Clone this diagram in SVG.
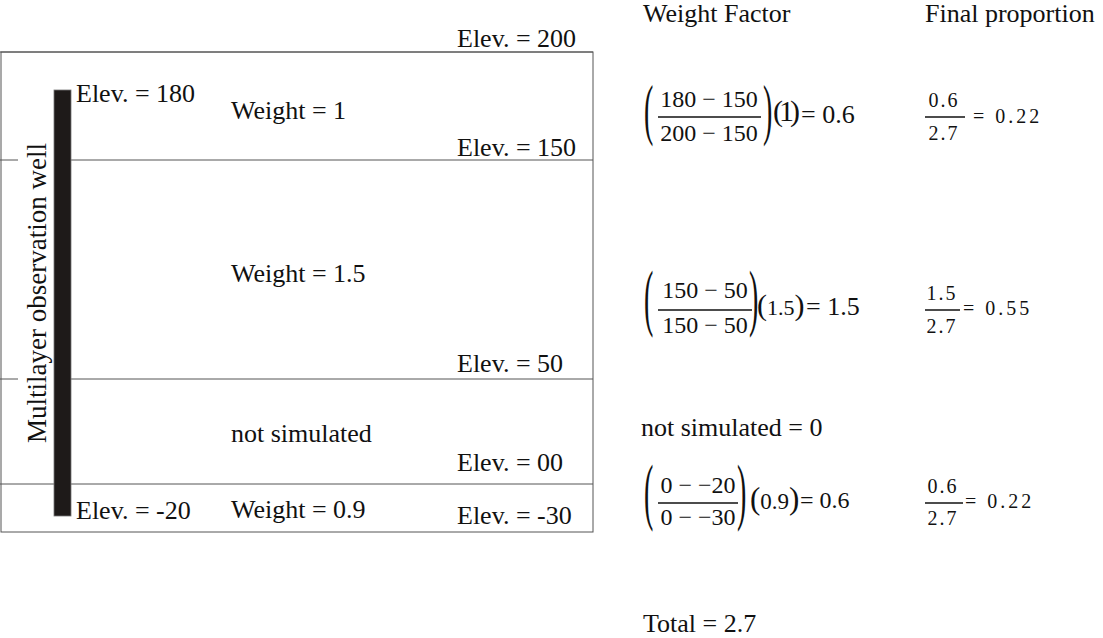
<svg xmlns="http://www.w3.org/2000/svg" width="1103" height="638" viewBox="0 0 1103 638">
<style>
text{font-family:"Liberation Serif","Times New Roman",serif;fill:#111;}
.lbl{font-size:26px;}
.num{font-size:24px;}
.res{font-size:26px;}
.sm{font-size:20px;letter-spacing:2px;}
.smr{font-size:20px;letter-spacing:3px;}
.bp{font-size:28px;}
.ln{stroke:#555;stroke-width:1;fill:none;}
.fr{stroke:#111;stroke-width:1.4;}
</style>
<rect width="1103" height="638" fill="#fff"/>
<g id="layers">
<rect class="ln" x="1" y="52" width="592" height="480"/>
<line class="ln" x1="0" y1="52" x2="593" y2="52"/>
<line class="ln" x1="0" y1="160" x2="593" y2="160"/>
<line class="ln" x1="0" y1="379" x2="593" y2="379"/>
<line class="ln" x1="0" y1="484" x2="593" y2="484"/>
</g>
<g id="well">
<rect x="18" y="148" width="36" height="300" fill="#fff"/>
<rect x="54" y="90" width="17" height="426" fill="#1e1a19" stroke="#777" stroke-width="0.8"/>
<text class="lbl" style="font-size:27px" transform="translate(46,443) rotate(-90)">Multilayer observation well</text>
</g>
<g id="layer-labels">
<text class="lbl" x="457" y="47">Elev. = 200</text>
<text class="lbl" x="76" y="102">Elev. = 180</text>
<text class="lbl" x="231" y="119">Weight = 1</text>
<text class="lbl" x="457" y="156">Elev. = 150</text>
<text class="lbl" x="231" y="282">Weight = 1.5</text>
<text class="lbl" x="457" y="372">Elev. = 50</text>
<text class="lbl" x="231" y="442">not simulated</text>
<text class="lbl" x="457" y="471">Elev. = 00</text>
<text class="lbl" x="76" y="519">Elev. = -20</text>
<text class="lbl" x="231" y="518">Weight = 0.9</text>
<text class="lbl" x="457" y="524">Elev. = -30</text>
</g>
<g id="headers">
<text class="lbl" x="643" y="22">Weight Factor</text>
<text class="lbl" x="925" y="22">Final proportion</text>
<text class="lbl" x="641" y="436">not simulated = 0</text>
<text class="lbl" x="643" y="632">Total = 2.7</text>
</g>
<g id="eq1">
<text class="bp" transform="translate(644,132) scale(1,2.43)">(</text>
<text class="num" x="709" y="107" text-anchor="middle">180 − 150</text>
<line class="fr" x1="658" y1="117" x2="761" y2="117"/>
<text class="num" x="709" y="141" text-anchor="middle">200 − 150</text>
<text class="bp" transform="translate(763,132) scale(1,2.43)">)</text>
<text x="773" y="121" letter-spacing="-4" style="font-size:30px">(1)</text>
<text class="res" x="801" y="123">= 0.6</text>
<text class="sm" x="944" y="107" text-anchor="middle">0.6</text>
<line class="fr" x1="925" y1="117" x2="965" y2="117"/>
<text class="sm" x="944" y="140" text-anchor="middle">2.7</text>
<text class="smr" x="973" y="123">= 0.22</text>
</g>
<g id="eq2">
<text class="bp" transform="translate(644,322) scale(1,2.63)">(</text>
<text class="num" x="705" y="298" text-anchor="middle">150 − 50</text>
<line class="fr" x1="658" y1="310" x2="752" y2="310"/>
<text class="num" x="705" y="333" text-anchor="middle">150 − 50</text>
<text class="bp" transform="translate(749,322) scale(1,2.63)">)</text>
<text x="757" y="315" style="font-size:22px"><tspan style="font-size:30px">(</tspan>1.5<tspan style="font-size:30px">)</tspan></text>
<text class="res" x="806" y="315">= 1.5</text>
<text class="sm" x="942" y="300" text-anchor="middle">1.5</text>
<line class="fr" x1="925" y1="310" x2="960" y2="310"/>
<text class="sm" x="942" y="333" text-anchor="middle">2.7</text>
<text class="smr" x="963" y="315">= 0.55</text>
</g>
<g id="eq3">
<text class="bp" transform="translate(644,516) scale(1,2.63)">(</text>
<text class="num" x="698" y="493" text-anchor="middle">0 − −20</text>
<line class="fr" x1="658" y1="503" x2="738" y2="503"/>
<text class="num" x="698" y="525" text-anchor="middle">0 − −30</text>
<text class="bp" transform="translate(737,516) scale(1,2.63)">)</text>
<text x="750" y="509" style="font-size:23px"><tspan style="font-size:31px">(</tspan>0.9<tspan style="font-size:31px">)</tspan></text>
<text class="res" x="800" y="508" style="font-size:24px">= 0.6</text>
<text class="sm" x="943" y="493" text-anchor="middle">0.6</text>
<line class="fr" x1="925" y1="503" x2="963" y2="503"/>
<text class="sm" x="943" y="525" text-anchor="middle">2.7</text>
<text class="smr" x="965" y="508">= 0.22</text>
</g>
</svg>
